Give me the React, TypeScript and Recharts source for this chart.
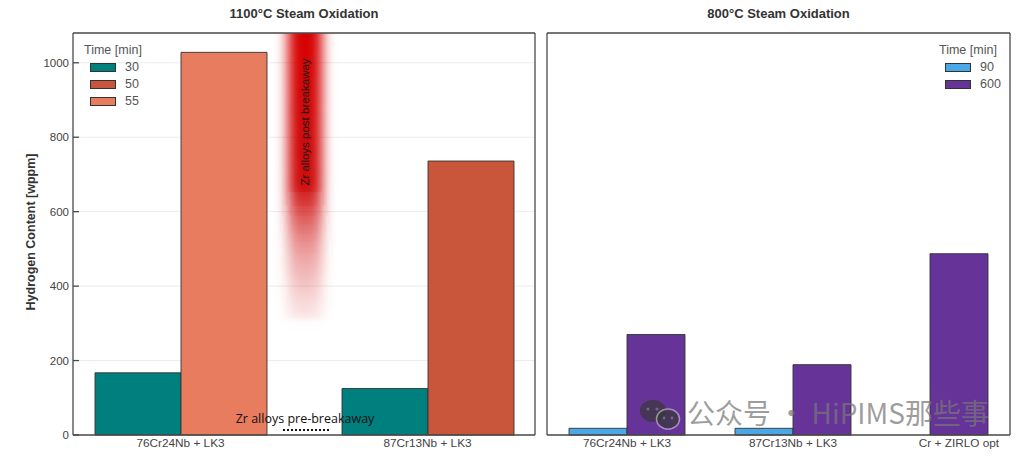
import React from "react";
import { BarChart, Bar, XAxis, YAxis, CartesianGrid, ReferenceArea, Cell } from "recharts";

// 1100°C panel
const alloys1100 = ["76Cr24Nb + LK3", "87Cr13Nb + LK3"];
const h30 = [167, 125];
const hLong = [1028, 736];
const longTime = [55, 50];
const times1100 = [30, 50, 55];

// 800°C panel
const alloys800 = ["76Cr24Nb + LK3", "87Cr13Nb + LK3", "Cr + ZIRLO opt"];
const h90: (number | null)[] = [18, 18, null];
const h600 = [270, 189, 487];
const times800 = [90, 600];

const yTicks = [0, 200, 400, 600, 800, 1000];
const yMax = 1080;

const timeColors: Record<number, string> = {
  30: "#007f7f",
  50: "#c9563a",
  55: "#e77c5f",
  90: "#4aa8e6",
  600: "#663399",
};

const FONT = '"Liberation Sans", Arial, sans-serif';
const AXIS = { stroke: "#4a4a4a", strokeWidth: 1.3 };
const XTICK = { fill: "#444", fontSize: 11.8, fontFamily: FONT };
const YTICK = { fill: "#444", fontSize: 11.5, fontFamily: FONT };

const left = alloys1100.map((a, i) => ({ alloy: a, short: h30[i], long: hLong[i], longTime: longTime[i] }));
const right = alloys800.map((a, i) => ({
  alloy: a,
  t90: h90[i],
  t600: h90[i] != null ? h600[i] : null,
  solo: h90[i] == null ? h600[i] : null,
}));

function Glow(props: any) {
  const { x, y, width, height } = props;
  const cx = x + width / 2 + 1;
  return (
    <g>
      <defs>
        <linearGradient id="glowFade" x1="0" y1="0" x2="0" y2="1">
          <stop offset="0" stopColor="#d80000" stopOpacity={1} />
          <stop offset="0.55" stopColor="#cc0000" stopOpacity={0.95} />
          <stop offset="0.75" stopColor="#d83a3a" stopOpacity={0.55} />
          <stop offset="1" stopColor="#e46a6a" stopOpacity={0.15} />
        </linearGradient>
        <filter id="glowBlur" x="-100%" y="-10%" width="300%" height="120%">
          <feGaussianBlur stdDeviation="6.5 3" />
        </filter>
        <clipPath id="glowClip">
          <rect x={cx - 45} y={y} width={90} height={height + 20} />
        </clipPath>
      </defs>
      <g clipPath="url(#glowClip)">
        <rect x={cx - 17} y={y - 14} width={34} height={height + 10} fill="url(#glowFade)" filter="url(#glowBlur)" />
      </g>
      <text
        transform={`translate(${cx},${y + 89}) rotate(-90)`}
        textAnchor="middle"
        dominantBaseline="central"
        fontSize={11.5}
        fontFamily={FONT}
        fill="#1a1a1a"
      >
        Zr alloys post breakaway
      </text>
    </g>
  );
}

function LegendBox({ times, x, y }: { times: number[]; x: number; y: number }) {
  return (
    <div style={{ position: "absolute", left: x, top: y, fontFamily: FONT, fontSize: 12.5, color: "#555", lineHeight: "17px" }}>
      <div>Time [min]</div>
      {times.map((t) => (
        <div key={t} style={{ display: "flex", alignItems: "center", marginLeft: 6 }}>
          <span style={{ width: 24, height: 7, background: timeColors[t], border: "1px solid #333", display: "inline-block", marginRight: 9 }} />
          <span>{t}</span>
        </div>
      ))}
    </div>
  );
}

export default function App() {
  return (
    <div style={{ position: "absolute", left: 0, top: 0, width: 1022, height: 459, background: "#fff", fontFamily: FONT, overflow: "hidden" }}>
      <div style={{ position: "absolute", left: 73, top: 6, width: 462, textAlign: "center", fontWeight: "bold", fontSize: 13, color: "#333" }}>
        1100°C Steam Oxidation
      </div>
      <div style={{ position: "absolute", left: 547, top: 6, width: 463, textAlign: "center", fontWeight: "bold", fontSize: 13, color: "#333" }}>
        800°C Steam Oxidation
      </div>
      <div
        style={{
          position: "absolute",
          left: 31,
          top: 232,
          transform: "translate(-50%, -50%) rotate(-90deg)",
          whiteSpace: "nowrap",
          fontWeight: "bold",
          fontSize: 12.5,
          color: "#333",
        }}
      >
        Hydrogen Content [wppm]
      </div>

      <div style={{ position: "absolute", left: 0, top: 0 }}>
        <BarChart width={545} height={459} data={left} margin={{ top: 32, right: 9, bottom: 23, left: 23 }} barGap={0} style={{ fontFamily: FONT }}>
          <CartesianGrid horizontal vertical={false} stroke="#ececec" />
          <XAxis dataKey="alloy" height={1} padding={{ left: -16, right: -16 }} tickLine={false} tickSize={0} tickMargin={4} tick={XTICK} axisLine={AXIS} interval={0} />
          <XAxis dataKey="alloy" xAxisId="t" orientation="top" height={1} padding={{ left: -16, right: -16 }} tick={false} tickSize={-6} tickLine={AXIS} axisLine={AXIS} />
          <YAxis width={50} domain={[0, yMax]} ticks={yTicks} tickSize={-6} tickMargin={10} tick={YTICK} tickLine={AXIS} axisLine={AXIS} />
          <YAxis yAxisId="r" orientation="right" width={1} domain={[0, yMax]} ticks={yTicks} tick={false} tickSize={-6} tickLine={AXIS} axisLine={AXIS} />
          <ReferenceArea x1={alloys1100[0]} x2={alloys1100[1]} y1={300} y2={yMax} ifOverflow="visible" shape={<Glow />} />
          <Bar dataKey="short" barSize={86} fill={timeColors[30]} stroke="#333" strokeWidth={0.9} isAnimationActive={false} />
          <Bar dataKey="long" barSize={86} stroke="#333" strokeWidth={0.9} isAnimationActive={false}>
            {left.map((d, i) => (
              <Cell key={i} fill={timeColors[d.longTime]} />
            ))}
          </Bar>
        </BarChart>
      </div>

      {/* pre-breakaway annotation, drawn above the bars */}
      <div
        style={{
          position: "absolute",
          left: 305,
          top: 418,
          transform: "translate(-50%, -50%)",
          whiteSpace: "nowrap",
          fontFamily: '"Open Sans", sans-serif',
          fontSize: 12.5,
          color: "#111",
        }}
      >
        Zr alloys pre-breakaway
      </div>
      <svg style={{ position: "absolute", left: 280, top: 426 }} width={52} height={8}>
        <line x1={3} x2={49} y1={4} y2={4} stroke="#111" strokeWidth={2} strokeDasharray="2 2" />
      </svg>

      <div style={{ position: "absolute", left: 540, top: 0 }}>
        <BarChart width={482} height={459} data={right} margin={{ top: 32, right: 11, bottom: 23, left: 6 }} barGap={0} style={{ fontFamily: FONT }}>
          <CartesianGrid horizontal vertical={false} stroke="#ececec" />
          <XAxis dataKey="alloy" height={1} padding={{ left: -3, right: -32 }} tickLine={false} tickSize={0} tickMargin={4} tick={XTICK} axisLine={AXIS} interval={0} />
          <XAxis dataKey="alloy" xAxisId="t" orientation="top" height={1} padding={{ left: -3, right: -32 }} tick={false} tickSize={-6} tickLine={AXIS} axisLine={AXIS} />
          <YAxis width={1} domain={[0, yMax]} ticks={yTicks} tick={false} tickSize={-6} tickLine={AXIS} axisLine={AXIS} />
          <YAxis yAxisId="r" orientation="right" width={1} domain={[0, yMax]} ticks={yTicks} tick={false} tickSize={-6} tickLine={AXIS} axisLine={AXIS} />
          <Bar dataKey="t90" barSize={58} fill={timeColors[90]} stroke="#333" strokeWidth={0.9} isAnimationActive={false} />
          <Bar dataKey="t600" barSize={58} fill={timeColors[600]} stroke="#333" strokeWidth={0.9} isAnimationActive={false} />
          <Bar dataKey="solo" xAxisId="t" barSize={58} fill={timeColors[600]} stroke="#333" strokeWidth={0.9} isAnimationActive={false} />
        </BarChart>
      </div>

      <LegendBox times={times1100} x={84} y={42} />
      <LegendBox times={times800} x={939} y={42} />

      {/* watermark */}
      <svg style={{ position: "absolute", left: 638, top: 398 }} width={46} height={36}>
        <ellipse cx={15} cy={13} rx={13} ry={11} fill="rgba(55,55,55,0.7)" />
        <ellipse cx={30} cy={21} rx={11.5} ry={10} fill="rgba(55,55,55,0.7)" stroke="rgba(255,255,255,0.45)" strokeWidth={1.5} />
        <circle cx={10} cy={11} r={1.6} fill="rgba(255,255,255,0.25)" />
        <circle cx={19} cy={11} r={1.6} fill="rgba(255,255,255,0.25)" />
        <circle cx={26} cy={20} r={1.4} fill="rgba(255,255,255,0.25)" />
        <circle cx={34} cy={20} r={1.4} fill="rgba(255,255,255,0.25)" />
      </svg>
      <div
        style={{
          position: "absolute",
          left: 687,
          top: 394,
          fontFamily: '"Noto Sans CJK SC", sans-serif',
          fontSize: 28,
          lineHeight: "36px",
          color: "rgba(120,120,120,0.72)",
          whiteSpace: "nowrap",
        }}
      >
        公众号 · HiPIMS那些事
      </div>
    </div>
  );
}
